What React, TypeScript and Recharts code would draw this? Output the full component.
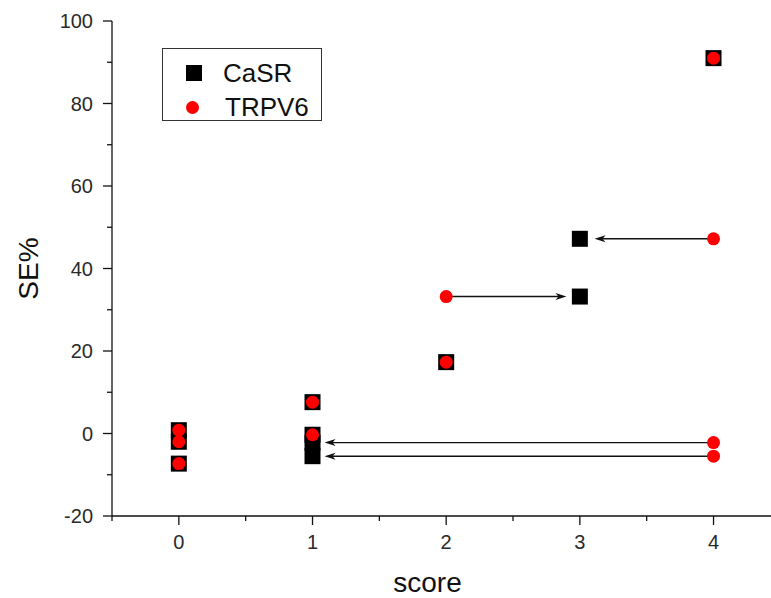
import {
  ScatterChart,
  Scatter,
  XAxis,
  YAxis,
  ReferenceLine,
  Label,
} from "recharts";

// CaSR points (score, SE%)
const casrScore = [0, 0, 0, 1, 1, 1, 1, 2, 3, 3, 4];
const casrSE = [0.8, -2, -7.3, 7.6, -0.3, -2.2, -5.5, 17.3, 47.2, 33.2, 91];

// TRPV6 points (score, SE%)
const trpv6Score = [0, 0, 0, 1, 1, 2, 2, 4, 4, 4, 4];
const trpv6SE = [0.8, -2, -7.3, 7.6, -0.3, 17.3, 33.2, 91, 47.2, -2.2, -5.5];

// arrows: from TRPV6 point towards the matching CaSR point
const arrowFromScore = [4, 2, 4, 4];
const arrowToScore = [3.11, 2.9, 1.09, 1.09];
const arrowSE = [47.2, 33.2, -2.2, -5.5];

const xTicks = [-0.5, 0, 0.5, 1, 1.5, 2, 2.5, 3, 3.5, 4];
const yTicks = [-20, -10, 0, 10, 20, 30, 40, 50, 60, 70, 80, 90, 100];

const casrData = casrScore.map((x, i) => ({ x, y: casrSE[i] }));
const trpv6Data = trpv6Score.map((x, i) => ({ x, y: trpv6SE[i] }));

const FONT = "'Liberation Sans', Arial, sans-serif";
const INK = "#111";
const TICK_SIZE = 9;
const TICK_MARGIN = 6;

function YTick(props: any) {
  const { x, y, payload } = props;
  const axisX = x + TICK_SIZE + TICK_MARGIN;
  const major = payload.value % 20 === 0;
  return (
    <g>
      <line x1={axisX - (major ? 9 : 5)} x2={axisX} y1={y} y2={y} stroke={INK} strokeWidth={1.3} />
      {major && (
        <text x={axisX - 19} y={y} dy="0.35em" textAnchor="end" fontSize={20} fontFamily={FONT} fill="#2a2a2a">
          {payload.value}
        </text>
      )}
    </g>
  );
}

function XTick(props: any) {
  const { x, y, payload } = props;
  const axisY = y - TICK_SIZE - TICK_MARGIN;
  const major = Number.isInteger(payload.value);
  return (
    <g>
      <line x1={x} x2={x} y1={axisY} y2={axisY + (major ? 9 : 5)} stroke={INK} strokeWidth={1.3} />
      {major && (
        <text x={x} y={axisY + 26} dy="0.35em" textAnchor="middle" fontSize={20} fontFamily={FONT} fill="#2a2a2a">
          {payload.value}
        </text>
      )}
    </g>
  );
}

const squareShape = (p: any) => <rect x={p.cx - 8} y={p.cy - 8} width={16} height={16} fill="#000" />;
const dotShape = (p: any) => <circle cx={p.cx} cy={p.cy} r={6.5} fill="#ff0000" />;

function arrowShape(p: any) {
  const { x1, y1, x2, y2 } = p;
  const dir = x2 > x1 ? 1 : -1;
  const len = 11;
  const hw = 3.5;
  return (
    <g>
      <line x1={x1} y1={y1} x2={x2 - dir * 6} y2={y2} stroke={INK} strokeWidth={1.4} />
      <polygon
        points={`${x2},${y2} ${x2 - dir * len},${y2 - hw} ${x2 - dir * (len - 3)},${y2} ${x2 - dir * len},${y2 + hw}`}
        fill={INK}
      />
    </g>
  );
}

function ChartLegend() {
  return (
    <div
      style={{
        position: "absolute",
        left: 162,
        top: 48,
        width: 158,
        height: 71,
        border: "1.5px solid #333",
        background: "#fff",
        fontFamily: FONT,
        fontSize: 26,
        color: "#111",
      }}
    >
      <div style={{ position: "absolute", left: 23, top: 16, width: 16, height: 16, background: "#000" }} />
      <div style={{ position: "absolute", left: 60, top: 8, lineHeight: "32px" }}>CaSR</div>
      <div
        style={{
          position: "absolute",
          left: 23,
          top: 52,
          width: 13,
          height: 13,
          borderRadius: "50%",
          background: "#ff0000",
        }}
      />
      <div style={{ position: "absolute", left: 62, top: 42, lineHeight: "32px" }}>TRPV6</div>
    </div>
  );
}

export default function App() {
  return (
    <div style={{ position: "relative", width: 771, height: 598 }}>
      <style>{"body{margin:0;background:#fff}"}</style>
      <ScatterChart width={771} height={598} margin={{ top: 21, right: 0, bottom: 0, left: 0 }}>
        <XAxis
          type="number"
          dataKey="x"
          domain={[-0.5, 4.43]}
          ticks={xTicks}
          interval={0}
          allowDataOverflow
          height={82}
          tickSize={TICK_SIZE}
          tickMargin={TICK_MARGIN}
          tickLine={false}
          tick={<XTick />}
          axisLine={{ stroke: INK, strokeWidth: 1.3 }}
        >
          <Label
            content={({ viewBox }: any) => (
              <text
                x={viewBox.x + viewBox.width / 2 - 14}
                y={viewBox.y + 66}
                dy="0.35em"
                textAnchor="middle"
                fontSize={28}
                fontFamily={FONT}
                fill="#111"
              >
                score
              </text>
            )}
          />
        </XAxis>
        <YAxis
          type="number"
          dataKey="y"
          domain={[-20, 100]}
          ticks={yTicks}
          interval={0}
          width={112}
          tickSize={TICK_SIZE}
          tickMargin={TICK_MARGIN}
          tickLine={false}
          tick={<YTick />}
          axisLine={{ stroke: INK, strokeWidth: 1.3 }}
        >
          <Label
            content={({ viewBox }: any) => {
              const cx = viewBox.x + 28;
              const cy = viewBox.y + viewBox.height / 2;
              return (
                <text
                  x={cx}
                  y={cy}
                  dy="0.35em"
                  textAnchor="middle"
                  transform={`rotate(-90, ${cx}, ${cy})`}
                  fontSize={28}
                  fontFamily={FONT}
                  fill="#111"
                >
                  SE%
                </text>
              );
            }}
          />
        </YAxis>
        {arrowSE.map((se, i) => (
          <ReferenceLine
            key={i}
            segment={[
              { x: arrowFromScore[i], y: se },
              { x: arrowToScore[i], y: se },
            ]}
            shape={arrowShape}
          />
        ))}
        <Scatter name="CaSR" data={casrData} shape={squareShape} isAnimationActive={false} />
        <Scatter name="TRPV6" data={trpv6Data} shape={dotShape} isAnimationActive={false} />
      </ScatterChart>
      <ChartLegend />
    </div>
  );
}
